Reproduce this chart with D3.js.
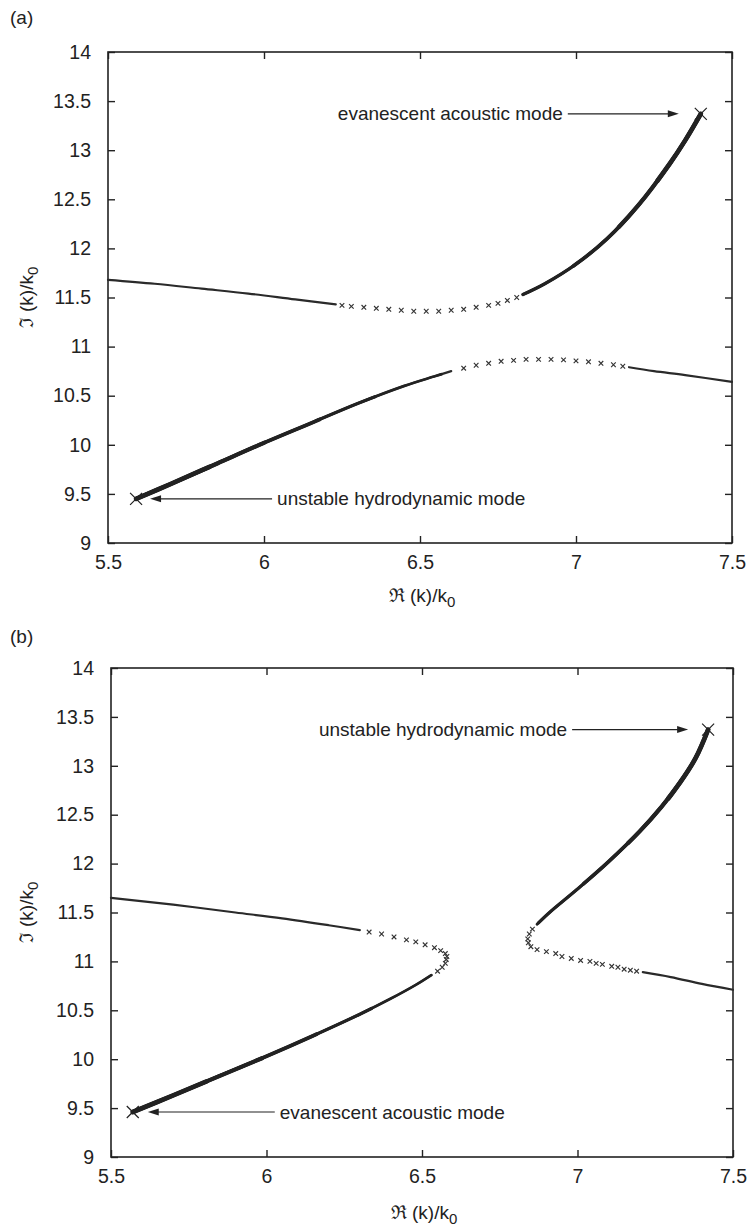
<!DOCTYPE html>
<html lang="en">
<head>
<meta charset="UTF-8">
<title>Complex wavenumber branches</title>
<script src="https://d3js.org/d3.v7.min.js"></script>
<style>
    body { margin: 0; background: #fff; }
    svg text { font-family: "Liberation Sans", Arial, Helvetica, sans-serif; fill: #222; }
</style>
</head>
<body>
<svg id="fig" width="748" height="1227"></svg>
<script>
// axis ticks
var xTicks = [5.5, 6, 6.5, 7, 7.5];
var xTickLabels = ["5.5", "6", "6.5", "7", "7.5"];
var yTicks = [9, 9.5, 10, 10.5, 11, 11.5, 12, 12.5, 13, 13.5, 14];
var yTickLabels = ["9", "9.5", "10", "10.5", "11", "11.5", "12", "12.5", "13", "13.5", "14"];

// panel (a) - [Re(k)/k0, Im(k)/k0]
var aUpperEnd = [[7.4, 13.37], [7.35, 13.1], [7.3, 12.86], [7.2, 12.44], [7.1, 12.1], [7.0, 11.84], [6.9, 11.64], [6.83, 11.53]];
var aUpperMarks = [[6.81, 11.5], [6.78, 11.47], [6.75, 11.44], [6.72, 11.42], [6.68, 11.4], [6.64, 11.38], [6.6, 11.37], [6.56, 11.36],
    [6.52, 11.36], [6.48, 11.36], [6.44, 11.37], [6.4, 11.38], [6.36, 11.39], [6.32, 11.4], [6.28, 11.41], [6.25, 11.42]];
var aUpperLeft = [[6.23, 11.43], [6.1, 11.48], [5.95, 11.54], [5.8, 11.59], [5.65, 11.64], [5.5, 11.68]];
var aLowerEnd = [[5.59, 9.45], [5.7, 9.6], [5.85, 9.81], [6.0, 10.02], [6.15, 10.22], [6.3, 10.42], [6.45, 10.6], [6.55, 10.7], [6.6, 10.75]];
var aLowerMarks = [[6.64, 10.78], [6.68, 10.81], [6.72, 10.83], [6.76, 10.85], [6.8, 10.86], [6.84, 10.87], [6.88, 10.87], [6.92, 10.87],
    [6.96, 10.865], [7.0, 10.855], [7.04, 10.845], [7.08, 10.83], [7.12, 10.815], [7.15, 10.8]];
var aLowerRight = [[7.17, 10.79], [7.25, 10.75], [7.35, 10.71], [7.5, 10.64]];

// panel (b)
var bUpperLeft = [[5.5, 11.65], [5.7, 11.58], [5.9, 11.5], [6.05, 11.44], [6.2, 11.37], [6.3, 11.32]];
var bUpperLeftMarks = [[6.33, 11.3], [6.37, 11.28], [6.41, 11.25], [6.45, 11.22], [6.48, 11.2], [6.51, 11.17], [6.54, 11.14],
    [6.56, 11.11], [6.575, 11.08], [6.58, 11.05], [6.578, 11.02]];
var bLowerLeftEnd = [[5.57, 9.46], [5.7, 9.63], [5.85, 9.83], [6.0, 10.03], [6.15, 10.24], [6.3, 10.46], [6.4, 10.62], [6.48, 10.76], [6.53, 10.86]];
var bLowerLeftMarks = [[6.55, 10.9], [6.565, 10.94], [6.575, 10.98]];
var bUpperRightEnd = [[7.42, 13.37], [7.38, 13.08], [7.33, 12.83], [7.27, 12.58], [7.2, 12.33], [7.1, 12.02], [7.0, 11.74], [6.91, 11.5], [6.87, 11.38]];
var bUpperRightMarks = [[6.855, 11.33], [6.845, 11.28], [6.84, 11.23], [6.842, 11.19], [6.85, 11.15]];
var bLowerRightMarks = [[6.87, 11.12], [6.9, 11.1], [6.93, 11.08], [6.95, 11.05], [6.98, 11.03], [7.01, 11.01], [7.04, 11.0],
    [7.06, 10.98], [7.08, 10.97], [7.11, 10.95], [7.13, 10.94], [7.15, 10.92], [7.17, 10.91], [7.19, 10.9]];
var bLowerRight = [[7.21, 10.89], [7.3, 10.84], [7.4, 10.77], [7.5, 10.71]];

var svg = d3.select("#fig");
var ink = "#222";

function drawPanel(cfg) {
    var g = svg.append("g");
    var x = d3.scaleLinear().domain([5.5, 7.5]).range([cfg.left, cfg.right]);
    var y = d3.scaleLinear().domain([9, 14]).range([cfg.bottom, cfg.top]);
    var tk = 7;

    // ticks, inward on all four sides
    var axB = d3.axisBottom(x).tickValues(xTicks).tickSize(-tk).tickPadding(12)
        .tickFormat(function (d, i) { return xTickLabels[i]; });
    var axL = d3.axisLeft(y).tickValues(yTicks).tickSize(-tk).tickPadding(17)
        .tickFormat(function (d, i) { return yTickLabels[i]; });
    var axT = d3.axisTop(x).tickValues(xTicks).tickSize(-tk).tickFormat("");
    var axR = d3.axisRight(y).tickValues(yTicks).tickSize(-tk).tickFormat("");

    [[axB, "translate(0," + cfg.bottom + ")"], [axL, "translate(" + cfg.left + ",0)"],
     [axT, "translate(0," + cfg.top + ")"], [axR, "translate(" + cfg.right + ",0)"]].forEach(function (a) {
        var s = g.append("g").attr("transform", a[1]).call(a[0]);
        s.select(".domain").remove();
        s.selectAll("line").attr("stroke", ink).attr("stroke-width", 1.4);
        s.selectAll("text").attr("font-size", 19.5).attr("fill", ink)
            .style("font-family", '"Liberation Sans", Arial, sans-serif');
    });
    g.append("rect").attr("x", cfg.left).attr("y", cfg.top)
        .attr("width", cfg.right - cfg.left).attr("height", cfg.bottom - cfg.top)
        .attr("fill", "none").attr("stroke", ink).attr("stroke-width", 1.6);

    // axis titles
    var xt = g.append("text").attr("x", (cfg.left + cfg.right) / 2 + 2).attr("y", cfg.xTitleY)
        .attr("text-anchor", "middle").attr("font-size", 19);
    xt.append("tspan").text("\u211C (k)/k");
    xt.append("tspan").attr("dy", 5).attr("font-size", 15).text("0");

    var yt = g.append("text").attr("transform", "translate(" + cfg.yTitleX + "," + ((cfg.top + cfg.bottom) / 2) + ") rotate(-90)")
        .attr("text-anchor", "middle").attr("font-size", 19);
    yt.append("tspan").text("\u2111 (k)/k");
    yt.append("tspan").attr("dy", 5).attr("font-size", 15).text("0");

    g.append("text").attr("x", 10).attr("y", cfg.letterY).attr("font-size", 19).text(cfg.letter);

    var line = d3.line().x(function (d) { return x(d[0]); }).y(function (d) { return y(d[1]); })
        .curve(d3.curveCatmullRom);

    // dense runs of markers drawn as a stroke, thicker near the marked end point
    cfg.runs.forEach(function (r) {
        var p = g.append("path").attr("d", line(r.pts)).attr("fill", "none")
            .attr("stroke", "#2a2a2a").attr("stroke-width", 2.2).attr("stroke-linecap", "round");
        if (r.taper) {
            var L = p.node().getTotalLength();
            [[2.7, 330], [3.2, 260], [3.7, 200], [4.2, 140], [4.7, 80]].forEach(function (w) {
                g.append("path").attr("d", line(r.pts)).attr("fill", "none")
                    .attr("stroke", "#222").attr("stroke-width", w[0]).attr("stroke-linecap", "round")
                    .attr("stroke-dasharray", w[1] + " " + L);
            });
        }
    });

    // sparse markers
    var h = 2.3;
    cfg.marks.forEach(function (set) {
        g.selectAll(null).data(set).enter().append("path")
            .attr("d", function (d) {
                var cx = x(d[0]), cy = y(d[1]);
                return "M" + (cx - h) + "," + (cy - h) + "L" + (cx + h) + "," + (cy + h) +
                    "M" + (cx - h) + "," + (cy + h) + "L" + (cx + h) + "," + (cy - h);
            })
            .attr("stroke", "#333").attr("stroke-width", 1.15).attr("fill", "none");
    });

    // end points and annotations
    cfg.notes.forEach(function (n) {
        var cx = x(n.pt[0]), cy = y(n.pt[1]), H = 6;
        g.append("path").attr("d", "M" + (cx - H) + "," + (cy - H) + "L" + (cx + H) + "," + (cy + H) +
            "M" + (cx - H) + "," + (cy + H) + "L" + (cx + H) + "," + (cy - H))
            .attr("stroke", ink).attr("stroke-width", 1.2);
        var dir = n.side === "left" ? 1 : -1;        // arrow points toward the marker
        var tip = cx - dir * n.gap;
        var tail = tip - dir * n.len;
        g.append("line").attr("x1", tail).attr("x2", tip - dir * 8).attr("y1", cy).attr("y2", cy)
            .attr("stroke", ink).attr("stroke-width", 1.2);
        g.append("path").attr("d", "M" + tip + "," + cy + "L" + (tip - dir * 11) + "," + (cy - 3.5) +
            "L" + (tip - dir * 11) + "," + (cy + 3.5) + "Z").attr("fill", ink);
        g.append("text").attr("x", tail - dir * 5).attr("y", cy + 6.5)
            .attr("text-anchor", n.side === "left" ? "end" : "start")
            .attr("font-size", 19).text(n.text);
    });
}

drawPanel({
    left: 108, right: 732, top: 52, bottom: 543,
    xTitleY: 602, yTitleX: 33, letter: "(a)", letterY: 24,
    runs: [{pts: aUpperEnd, taper: true}, {pts: aUpperLeft}, {pts: aLowerEnd, taper: true}, {pts: aLowerRight}],
    marks: [aUpperMarks, aLowerMarks],
    notes: [
        {pt: aUpperEnd[0], side: "left", gap: 22, len: 111, text: "evanescent acoustic mode"},
        {pt: aLowerEnd[0], side: "right", gap: 14, len: 122, text: "unstable hydrodynamic mode"}
    ]
});

drawPanel({
    left: 111, right: 733, top: 668, bottom: 1157,
    xTitleY: 1219, yTitleX: 33, letter: "(b)", letterY: 643,
    runs: [{pts: bUpperLeft}, {pts: bLowerLeftEnd, taper: true}, {pts: bUpperRightEnd, taper: true}, {pts: bLowerRight}],
    marks: [bUpperLeftMarks, bLowerLeftMarks, bUpperRightMarks, bLowerRightMarks],
    notes: [
        {pt: bUpperRightEnd[0], side: "left", gap: 20, len: 116, text: "unstable hydrodynamic mode"},
        {pt: bLowerLeftEnd[0], side: "right", gap: 15, len: 127, text: "evanescent acoustic mode"}
    ]
});
</script>
</body>
</html>
